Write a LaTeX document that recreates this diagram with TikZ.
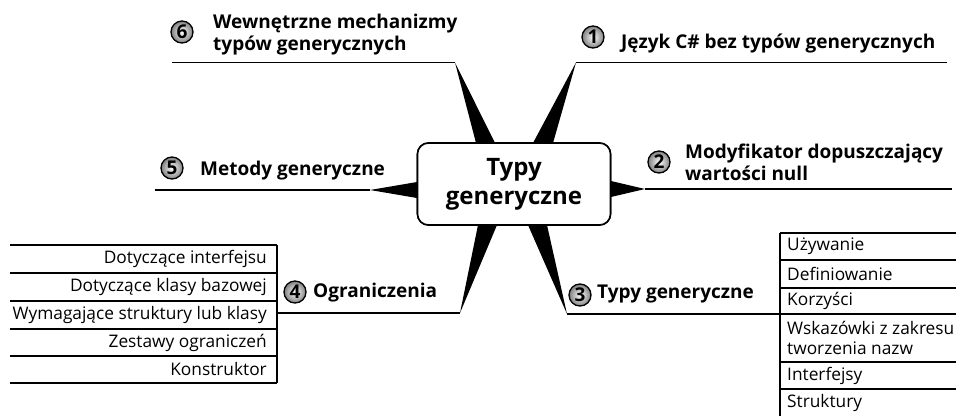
\documentclass[tikz,border=0pt]{standalone}
\usepackage{fontspec}
\setmainfont{Open Sans}
\begin{document}
\begin{tikzpicture}[x=1pt,y=-1pt,
  item/.style={font=\fontsize{17.3}{20}\selectfont, inner sep=0pt},
  head/.style={font=\fontsize{19}{22}\selectfont\bfseries, inner sep=0pt, align=left},
  num/.style={circle, draw=black, line width=1.3pt, minimum size=22pt, inner sep=0pt,
    inner color=white, outer color=black!50, font=\fontsize{19}{19}\selectfont\bfseries},
  branch/.style={line width=1.6pt},
  rule/.style={line width=1.5pt},
  wedge/.style={fill=black},
  hub/.style={draw, fill=white, rounded corners=11pt, line width=1.6pt, minimum width=193pt, minimum height=82pt,
    align=center, inner sep=0pt, font=\fontsize{24}{29}\selectfont\bfseries}]
\useasboundingbox (0,0) rectangle (956,416);

% central node
\node[hub] (center) at (514,184) {Typy\\generyczne};

% coordinates on the box and line ends
\coordinate (w6a) at (476,143); \coordinate (w6b) at (495,143); \coordinate (l6e) at (455,62.5); \coordinate (l6s) at (172,62.5);
\coordinate (w1a) at (533,143); \coordinate (w1b) at (553,143); \coordinate (l1s) at (576,62.5); \coordinate (l1e) at (947,62.5);
\coordinate (w2a) at (611,181); \coordinate (w2b) at (611,197); \coordinate (l2s) at (645,189); \coordinate (l2e) at (952,189);
\coordinate (w5a) at (417,182); \coordinate (w5b) at (417,198); \coordinate (l5e) at (370,190); \coordinate (l5s) at (155,190);
\coordinate (w4a) at (478,225); \coordinate (w4b) at (497,225); \coordinate (l4e) at (460,313); \coordinate (l4s) at (277,313);
\coordinate (w3a) at (528,225); \coordinate (w3b) at (547,225); \coordinate (l3s) at (567,314); \coordinate (l3e) at (780,314);

% wedges
\fill[wedge] (l6e) -- (w6a) -- (w6b) -- cycle;
\fill[wedge] (l1s) -- (w1a) -- (w1b) -- cycle;
\fill[wedge] (l2s) -- (w2a) -- (w2b) -- cycle;
\fill[wedge] (l5e) -- (w5a) -- (w5b) -- cycle;
\fill[wedge] (l4e) -- (w4a) -- (w4b) -- cycle;
\fill[wedge] (l3s) -- (w3a) -- (w3b) -- cycle;

% branch lines
\draw[branch] (l6s) -- (l6e);
\draw[branch] (l1s) -- (l1e);
\draw[branch] (l2s) -- (l2e);
\draw[branch] (l5s) -- (l5e);
\draw[branch] (l4s) -- (l4e);
\draw[branch] (l3s) -- (l3e);

% box on top of the wedges
\node[hub] at (center) {Typy\\generyczne};

% headings
\node[num] (n6) at (182,32) {6};
\node[head, anchor=base west] (h6) at (213,50) {Wewnętrzne mechanizmy\\typów generycznych};
\node[num] (n1) at (593,37) {1};
\node[head, anchor=base west] (h1) at (621,48) {Język C\# bez typów generycznych};
\node[num] (n2) at (659,162) {2};
\node[head, anchor=base west] (h2) at (685,180) {Modyfikator dopuszczający\\wartości null};
\node[num] (n5) at (172,168) {5};
\node[head, anchor=base west] (h5) at (200,175) {Metody generyczne};
\node[num] (n4) at (295,292) {4};
\node[head, anchor=base west] (h4) at (313,297) {Ograniczenia};
\node[num] (n3) at (580,295) {3};
\node[head, anchor=base west] (h3) at (597,298) {Typy generyczne};

% left list
\foreach \y in {245,273,301,329,356,383} \draw[rule] (10,\y) -- (277,\y);
\draw[rule] (277,245) -- (277,383);
\node[item, anchor=east] (a1) at (267,259) {Dotyczące interfejsu};
\node[item, anchor=east] (a2) at (267,287) {Dotyczące klasy bazowej};
\node[item, anchor=east] (a3) at (267,315) {Wymagające struktury lub klasy};
\node[item, anchor=east] (a4) at (267,342.5) {Zestawy ograniczeń};
\node[item, anchor=east] (a5) at (267,369.5) {Konstruktor};

% right list
\foreach \y in {233,260,288,314,362,389} \draw[rule] (780,\y) -- (956,\y);
\draw[rule] (780,233) -- (780,416);
\node[item, anchor=west] (b1) at (787,246.5) {Używanie};
\node[item, anchor=west] (b2) at (787,274) {Definiowanie};
\node[item, anchor=west] (b3) at (787,301) {Korzyści};
\node[item, anchor=west, align=left] (b4) at (787,338) {Wskazówki z zakresu\\tworzenia nazw};
\node[item, anchor=west] (b5) at (787,375.5) {Interfejsy};
\node[item, anchor=west] (b6) at (787,402.5) {Struktury};
\end{tikzpicture}
\end{document}
